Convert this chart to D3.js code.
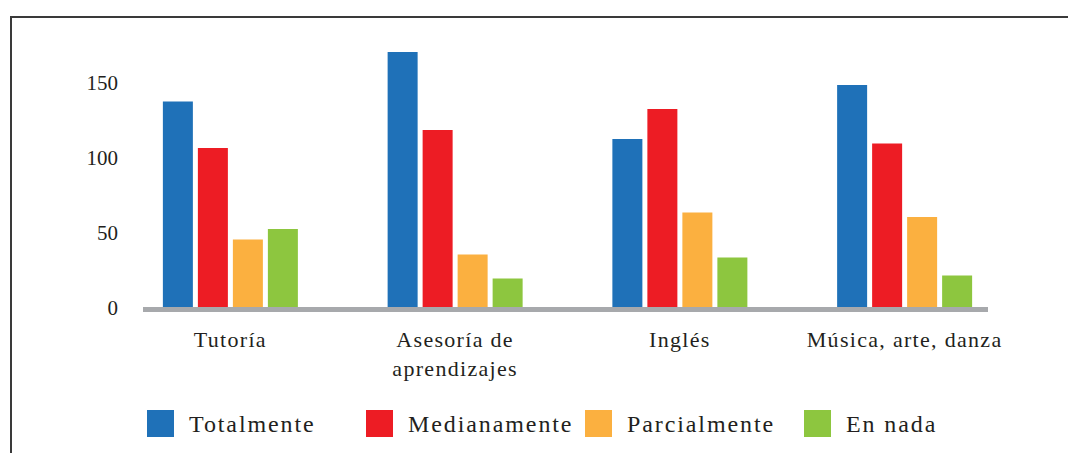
<!DOCTYPE html>
<html lang="es">
<head>
	<meta charset="UTF-8">
	<title>Valoración por actividad</title>
	<style>
		body { margin: 0; background: #fff; }
		svg text { font-family: 'Liberation Serif', 'DejaVu Serif', serif; fill: #231f20; }
	</style>
	<script src="https://cdnjs.cloudflare.com/ajax/libs/d3/7.8.5/d3.min.js"></script>
</head>
<body>
	<figure id="chart" style="margin:0"></figure>
	<script>
		// data
		var categories = ["Tutoría", "Asesoría de aprendizajes", "Inglés", "Música, arte, danza"];
		var categoryLines = [["Tutoría"], ["Asesoría de", "aprendizajes"], ["Inglés"], ["Música, arte, danza"]];
		var series = ["Totalmente", "Medianamente", "Parcialmente", "En nada"];
		var totalmente = [137, 170, 112, 148];
		var medianamente = [106, 118, 132, 109];
		var parcialmente = [45, 35, 63, 60];
		var enNada = [52, 19, 33, 21];
		var yTicks = [0, 50, 100, 150];
		var colors = ["#1f71b8", "#ed1c24", "#fbb040", "#8dc63f"];

		var values = [totalmente, medianamente, parcialmente, enNada];
		var rows = [];
		categories.forEach((c, i) => {
			series.forEach((s, j) => rows.push({cat: c, serie: s, value: values[j][i]}));
		});

		var w = 1068, h = 453;

		var svg = d3.select("#chart").append("svg")
			.attr("width", w)
			.attr("height", h)
			.style("display", "block");

		// frame (top + left only, the rest is cut off)
		svg.append("path")
			.attr("d", `M11,${h} L11,17 L${w},17`)
			.attr("fill", "none")
			.attr("stroke", "#3a3a3a")
			.attr("stroke-width", 2);

		var x0 = d3.scaleBand()
			.domain(categories)
			.range([118, 1017]);

		var x1 = d3.scaleBand()
			.domain(series)
			.range([0, 135])
			.paddingInner(5 / 35);

		var y = d3.scaleLinear()
			.domain([0, 150])
			.range([307, 82]);

		var color = d3.scaleOrdinal().domain(series).range(colors);

		// y axis labels only
		var yAxis = svg.append("g")
			.attr("transform", "translate(118,0)")
			.call(d3.axisLeft(y).tickValues(yTicks).tickSize(0).tickPadding(0))
			.attr("font-family", null)
			.attr("font-size", null);
		yAxis.select(".domain").remove();
		yAxis.selectAll("text")
			.style("font-size", "21px")
			.attr("dy", "0.34em");

		// bars
		svg.append("g").selectAll("rect")
			.data(rows)
			.enter()
			.append("rect")
			.attr("x", d => x0(d.cat) + x0.bandwidth() / 2 - 67.5 + x1(d.serie))
			.attr("y", d => y(d.value))
			.attr("width", x1.bandwidth())
			.attr("height", d => y(0) - y(d.value))
			.attr("fill", d => color(d.serie));

		// baseline
		svg.append("line")
			.attr("x1", 143)
			.attr("x2", 988)
			.attr("y1", y(0) + 2.5)
			.attr("y2", y(0) + 2.5)
			.attr("stroke", "#a7a9ac")
			.attr("stroke-width", 5);

		// category labels
		var catLabels = svg.append("g").selectAll("text")
			.data(categories)
			.enter()
			.append("text")
			.attr("x", d => x0(d) + x0.bandwidth() / 2)
			.attr("y", 347)
			.attr("text-anchor", "middle")
			.style("font-size", "22px")
			.style("letter-spacing", "1.3px");
		catLabels.selectAll("tspan")
			.data((d, i) => categoryLines[i])
			.enter()
			.append("tspan")
			.attr("x", function() { return this.parentNode.getAttribute("x"); })
			.attr("dy", (d, i) => i === 0 ? 0 : 29)
			.text(d => d);

		// legend
		var legend = svg.append("g").selectAll("g")
			.data(series)
			.enter()
			.append("g")
			.attr("transform", (d, i) => `translate(${147 + i * 219},410)`);
		legend.append("rect")
			.attr("width", 27)
			.attr("height", 27)
			.attr("fill", d => color(d));
		legend.append("text")
			.attr("x", 42)
			.attr("y", 22)
			.style("font-size", "24px")
			.style("letter-spacing", "1.9px")
			.text(d => d);
	</script>
</body>
</html>
